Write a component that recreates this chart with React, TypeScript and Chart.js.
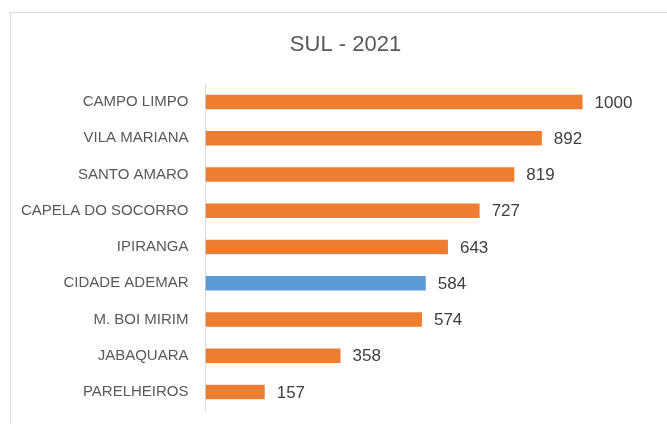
import React, { useEffect, useRef } from "react";
import { Chart, registerables } from "chart.js";

Chart.register(...registerables);

const categories = [
  "CAMPO LIMPO",
  "VILA MARIANA",
  "SANTO AMARO",
  "CAPELA DO SOCORRO",
  "IPIRANGA",
  "CIDADE ADEMAR",
  "M. BOI MIRIM",
  "JABAQUARA",
  "PARELHEIROS",
];
const values = [1000, 892, 819, 727, 643, 584, 574, 358, 157];
const highlighted = ["CIDADE ADEMAR"];
const titleText = "SUL - 2021";

const ORANGE = "#ED7D31";
const BLUE = "#5B9BD5";
const FONT = "'Liberation Sans', Arial, sans-serif";

const valueLabels = {
  id: "valueLabels",
  afterDatasetsDraw(chart: any) {
    const ctx = chart.ctx;
    const meta = chart.getDatasetMeta(0);
    const data = chart.data.datasets[0].data;
    ctx.save();
    ctx.font = `17px ${FONT}`;
    ctx.fillStyle = "#404040";
    ctx.textAlign = "left";
    ctx.textBaseline = "middle";
    meta.data.forEach((bar: any, i: number) => {
      ctx.fillText(String(data[i]), bar.x + 12, bar.y + 1);
    });
    ctx.restore();
  },
};

const chartTitle = {
  id: "chartTitle",
  afterDraw(chart: any) {
    const ctx = chart.ctx;
    ctx.save();
    ctx.font = `22px ${FONT}`;
    ctx.fillStyle = "#595959";
    ctx.textAlign = "center";
    ctx.textBaseline = "middle";
    ctx.fillText(titleText, 345.5, 45);
    ctx.restore();
  },
};

export default function App() {
  const ref = useRef<HTMLCanvasElement | null>(null);

  useEffect(() => {
    document.body.style.margin = "0";
    if (!ref.current) return;
    const chart = new Chart(ref.current, {
      type: "bar",
      data: {
        labels: categories,
        datasets: [
          {
            data: values,
            backgroundColor: categories.map((c) =>
              highlighted.includes(c) ? BLUE : ORANGE
            ),
            categoryPercentage: 1,
            barPercentage: 0.4,
          },
        ],
      },
      options: {
        indexAxis: "y",
        animation: false,
        responsive: false,
        maintainAspectRatio: false,
        layout: { padding: { left: 0, right: 9, top: 84, bottom: 14 } },
        plugins: {
          legend: { display: false },
          tooltip: { enabled: false },
          title: { display: false },
        },
        scales: {
          x: {
            display: false,
            min: 0,
            max: 1200,
            afterFit: (scale: any) => {
              scale.height = 0;
              scale.paddingLeft = 0;
              scale.paddingRight = 0;
              scale.paddingTop = 0;
              scale.paddingBottom = 0;
            },
          },
          y: {
            grid: {
              display: true,
              drawOnChartArea: false,
              drawTicks: false,
              color: "transparent",
            },
            border: { display: true, color: "#D9D9D9", width: 1 },
            ticks: {
              color: "#595959",
              font: { family: FONT, size: 15 },
              padding: 17,
            },
            afterFit: (scale: any) => {
              scale.width = 205.5;
              scale.paddingTop = 0;
              scale.paddingBottom = 0;
            },
          },
        },
      },
      plugins: [valueLabels, chartTitle],
    });
    return () => chart.destroy();
  }, []);

  return (
    <div style={{ position: "relative", width: 667, height: 424, overflow: "hidden", background: "#fff" }}>
      <div
        style={{
          position: "absolute",
          left: 10,
          top: 12,
          width: 700,
          height: 500,
          border: "1px solid #D9D9D9",
          boxSizing: "border-box",
        }}
      />
      <canvas
        ref={ref}
        width={667}
        height={424}
        style={{ position: "absolute", left: 0, top: 0, width: 667, height: 424 }}
      />
    </div>
  );
}
